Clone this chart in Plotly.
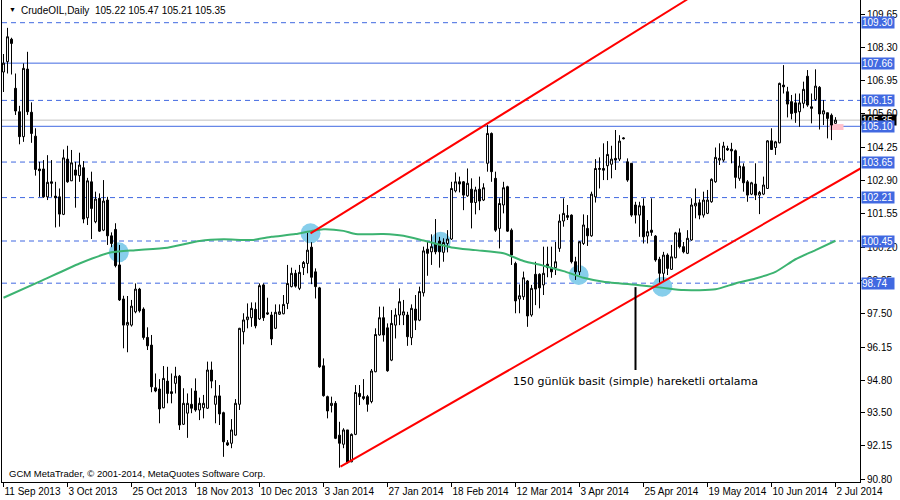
import plotly.graph_objects as go

# ---------------- data ----------------
opens = [107.30,107.72,108.63,106.64,105.69,104.68,107.42,105.67,104.70,103.37,
         103.37,102.24,102.85,102.27,102.24,101.53,103.77,102.89,103.33,103.10,
         103.42,101.39,102.85,101.23,102.18,100.89,102.11,100.66,100.92,99.48,
         98.10,97.04,97.04,97.58,98.50,97.69,96.54,96.23,94.50,94.45,
         93.69,94.77,94.34,94.68,94.97,93.02,93.47,93.83,94.37,93.60,
         93.69,93.67,95.22,93.83,94.17,93.49,92.27,92.25,92.58,93.83,
         96.77,97.26,97.34,97.68,97.29,98.67,97.54,97.45,96.91,97.48,
         97.50,97.92,98.60,99.14,98.53,99.37,99.54,100.20,99.20,98.55,
         95.39,94.14,93.78,93.87,92.58,92.21,92.79,91.50,92.61,94.27,
         94.14,94.14,93.94,95.15,96.64,97.34,96.93,95.62,97.04,97.45,
         97.45,97.45,96.53,97.69,97.24,98.35,100.12,100.01,100.35,100.45,
         99.99,100.35,100.53,102.48,102.85,102.85,102.28,102.55,102.01,102.55,
         102.11,103.60,104.81,102.99,100.96,101.91,102.65,100.89,99.54,98.10,
         98.19,98.83,97.45,99.10,99.10,98.67,99.51,99.37,99.37,100.15,
         101.26,101.48,101.50,99.61,99.20,100.35,100.96,100.66,102.24,103.35,
         103.39,103.50,103.56,103.80,103.77,104.63,103.66,103.60,101.91,101.50,
         101.87,100.65,100.89,100.65,99.71,99.14,99.88,99.30,99.77,100.78,
         100.22,99.95,100.49,101.87,102.00,101.50,101.57,102.04,102.85,103.73,
         103.73,104.20,104.17,104.11,102.99,103.46,102.85,102.35,102.76,102.31,
         102.35,102.58,104.51,104.24,104.43,106.77,106.50,106.10,106.05,105.69,
         106.03,107.13,105.89,106.19,106.68,105.60,105.65,105.55,105.22]
highs = [108.03,109.09,108.69,107.24,105.93,107.65,108.12,106.07,105.02,103.66,
         103.73,103.93,103.73,102.85,102.58,104.16,104.31,104.14,103.66,104.03,
         103.69,103.01,103.26,102.45,102.38,102.92,102.24,100.80,101.17,100.29,
         98.23,98.22,98.06,98.73,98.55,97.76,96.95,96.64,95.08,94.85,
         95.38,95.35,95.08,95.35,95.02,94.48,94.27,94.48,94.88,94.10,
         94.21,95.56,95.56,94.81,94.61,93.53,92.38,93.23,94.04,96.93,
         97.52,97.92,97.96,97.96,98.73,98.73,98.15,97.58,97.88,97.88,
         98.26,99.48,99.37,99.28,99.48,99.64,100.78,100.40,99.34,98.59,
         95.69,94.18,94.14,93.96,93.12,92.86,92.79,92.65,94.61,94.61,
         94.85,94.21,95.26,96.91,97.79,97.79,97.11,97.65,97.72,98.53,
         98.06,97.58,97.88,98.26,98.60,100.22,100.45,100.72,101.34,100.62,
         100.56,100.89,102.85,103.23,103.06,102.88,103.39,102.99,102.65,103.06,
         102.79,105.15,104.85,103.26,102.18,102.85,102.69,100.96,99.61,98.69,
         99.21,98.87,98.67,99.61,99.14,100.22,100.22,100.22,100.41,101.53,
         102.18,101.91,101.53,99.81,100.45,101.53,101.50,102.45,103.77,103.84,
         104.41,104.50,104.31,104.95,104.74,104.66,103.80,103.60,102.04,102.04,
         102.18,101.30,102.18,100.69,99.81,100.01,99.95,100.29,100.82,100.96,
         100.41,100.89,102.18,102.58,102.14,102.45,102.52,102.99,104.24,104.41,
         104.47,104.31,104.43,104.16,103.89,103.60,102.92,102.85,103.60,102.48,
         103.06,104.54,105.02,104.51,106.87,107.58,106.70,106.37,106.43,106.43,
         106.91,107.38,106.43,107.41,106.73,106.16,105.65,105.62,105.47]
lows = [106.49,107.24,107.20,105.56,104.37,104.47,105.56,104.43,103.10,102.24,
        102.20,102.11,102.24,101.00,101.03,101.50,102.81,102.88,101.80,102.85,
        101.17,101.10,100.53,101.17,100.82,100.85,100.29,100.20,99.38,98.02,
        96.10,95.94,96.98,97.52,97.55,96.45,96.03,94.32,94.32,93.06,
        93.67,93.87,93.87,94.27,92.79,92.99,92.47,93.47,93.53,93.19,
        93.26,93.64,94.48,93.06,92.99,91.70,92.14,92.05,92.56,93.60,
        96.26,96.91,96.97,96.91,97.25,97.21,97.45,96.23,96.88,97.45,
        97.48,97.69,98.57,98.56,98.46,99.07,99.14,98.70,98.12,95.31,
        94.14,93.26,93.50,92.42,91.26,92.05,91.43,91.48,92.58,93.80,
        94.00,93.53,93.87,95.13,96.61,96.37,95.15,95.58,96.50,97.04,
        97.04,96.20,96.23,96.84,97.20,98.20,99.04,99.48,99.91,99.37,
        99.61,99.99,100.49,102.42,102.42,101.70,102.24,100.96,101.53,101.70,
        102.07,103.26,102.85,100.82,100.15,101.57,100.82,99.48,97.52,97.52,
        98.06,96.97,97.38,97.85,97.72,98.26,98.98,98.96,99.07,100.01,
        101.03,101.30,99.54,98.87,99.07,100.29,100.25,100.62,102.01,102.58,
        102.92,102.92,102.99,103.33,103.69,104.57,102.85,101.43,101.16,100.62,
        100.35,100.35,100.66,99.61,98.76,98.80,99.07,99.28,99.75,100.15,
        99.95,99.92,100.46,101.37,101.33,101.40,101.54,102.00,102.81,103.53,
        103.66,104.10,103.60,102.58,102.89,102.45,102.04,102.31,102.11,101.54,
        102.31,102.56,104.14,103.94,104.41,106.43,105.46,105.38,105.24,105.08,
        105.83,105.89,105.22,106.13,104.97,105.15,104.61,104.54,105.21]
closes = [107.66,108.73,108.46,105.72,104.68,107.45,105.69,104.81,103.35,103.30,
          102.24,102.83,102.79,102.20,101.54,103.82,102.85,103.62,103.12,103.53,
          101.34,102.89,101.77,102.15,100.85,102.07,100.66,100.35,99.45,98.06,
          97.04,97.15,97.81,98.50,97.62,96.54,96.20,94.54,94.37,93.64,
          94.88,94.27,94.27,94.97,92.99,93.87,93.87,93.67,93.60,93.87,
          93.87,95.22,94.77,94.17,93.44,92.31,92.18,92.79,93.87,96.91,
          97.25,97.37,97.72,97.01,98.64,97.34,97.49,96.48,97.56,97.58,
          97.88,98.73,99.14,98.62,99.18,99.58,100.08,98.98,98.60,95.35,
          94.18,93.56,93.87,92.45,92.25,92.79,91.48,92.61,94.31,94.14,
          94.07,93.83,95.18,96.66,97.34,96.64,95.19,97.11,97.45,97.99,
          97.58,96.57,97.72,97.24,98.40,100.05,99.95,100.22,100.01,100.01,
          100.39,100.53,102.58,102.85,102.76,102.31,102.79,102.01,102.52,102.07,
          102.61,104.81,103.26,100.89,101.97,102.61,100.85,99.88,98.02,98.23,
          98.96,97.41,98.53,98.50,98.55,99.14,99.37,99.20,99.61,101.26,
          101.57,101.41,99.61,99.20,100.42,101.10,100.66,102.35,103.39,103.39,
          103.32,103.96,103.77,103.73,104.50,104.60,102.92,101.50,101.50,101.88,
          100.62,100.83,100.80,99.68,99.14,99.88,99.34,99.81,100.78,100.22,
          100.01,100.56,101.91,101.98,101.50,102.11,102.11,102.95,103.84,103.80,
          104.30,104.14,104.10,103.03,103.49,102.81,102.31,102.81,102.31,102.42,
          102.72,104.51,104.16,104.47,106.84,106.70,106.00,105.62,105.65,106.05,
          106.60,105.96,105.83,106.73,105.60,105.73,105.42,105.15,105.35]
bars = list(range(len(closes)))

# 150-day simple moving average
ma_bar = [0, 9, 19, 27, 33, 41, 49, 55, 62, 67, 73, 77, 80, 85, 88, 95, 100, 105,
          112, 118, 125, 130, 135, 140, 145, 150, 159, 165, 170, 178, 183, 188,
          193, 198, 203, 208]
ma_val = [98.15, 98.80, 99.54, 99.99, 100.08, 100.18, 100.45, 100.52, 100.49, 100.62,
          100.73, 100.86, 100.93, 100.86, 100.73, 100.73, 100.66, 100.47, 100.19,
          100.08, 99.95, 99.64, 99.45, 99.23, 98.96, 98.80, 98.66, 98.55, 98.46,
          98.49, 98.73, 98.93, 99.20, 99.71, 100.08, 100.46]

# x-axis tick labels (every 16 bars)
tick_bars = [0, 16, 32, 48, 64, 80, 96, 112, 128, 144, 160, 176, 192, 208]
tick_text = ["11 Sep 2013", "3 Oct 2013", "25 Oct 2013", "18 Nov 2013", "10 Dec 2013",
             "3 Jan 2014", "27 Jan 2014", "18 Feb 2014", "12 Mar 2014", "3 Apr 2014",
             "25 Apr 2014", "19 May 2014", "10 Jun 2014", "2 Jul 2014"]
y_ticks = [109.65, 108.30, 106.95, 105.60, 104.25, 102.90, 101.55, 100.20, 98.85,
           97.50, 96.15, 94.80, 93.50, 92.15, 90.80]

# horizontal levels
solid_levels = [107.66, 105.10]
dashed_levels = [109.30, 106.15, 103.65, 102.21, 100.45, 98.74]
bid_price = 105.35

# trend lines
up_x = [76.75, 171.0]
up_y = [100.76, 110.25]
low_x = [84.25, 214.25]
low_y = [91.30, 103.39]

# highlighted crossings (blue circles)
circ_bar = [28.8, 76.75, 109.3, 143.8, 164.7]
circ_val = [99.99, 100.76, 100.42, 99.07, 98.60]

# note
note_bar = 158
note_top, note_bottom, note_text_y = 98.58, 95.22, 94.74
note_text = "150 günlük basit (simple) hareketli ortalama"

FONT = "Tahoma, 'Liberation Sans', Arial, sans-serif"
BLUE = "#4169E1"

fig = go.Figure()

fig.add_trace(go.Candlestick(
    x=bars, open=opens, high=highs, low=lows, close=closes,
    increasing=dict(line=dict(color="black", width=1), fillcolor="white"),
    decreasing=dict(line=dict(color="black", width=1), fillcolor="black"),
    whiskerwidth=0, showlegend=False, hoverinfo="skip"))

fig.add_trace(go.Scatter(x=ma_bar, y=ma_val, mode="lines",
                         line=dict(color="#3CB371", width=2, shape="spline", smoothing=0.6),
                         showlegend=False, hoverinfo="skip"))

fig.add_trace(go.Scatter(x=up_x, y=up_y, mode="lines",
                         line=dict(color="#FF0000", width=2), showlegend=False, hoverinfo="skip"))
fig.add_trace(go.Scatter(x=low_x, y=low_y, mode="lines",
                         line=dict(color="#FF0000", width=2), showlegend=False, hoverinfo="skip"))

shapes = []
for cx, cy in zip(circ_bar, circ_val):
    shapes.append(dict(type="circle", xref="x", yref="y", xsizemode="pixel", ysizemode="pixel",
                       xanchor=cx, yanchor=cy, x0=-10, x1=10, y0=-10, y1=10,
                       fillcolor="#87CEEB", line=dict(width=0), layer="below"))
for lv in solid_levels:
    shapes.append(dict(type="line", xref="paper", yref="y", x0=0, x1=1, y0=lv, y1=lv,
                       line=dict(color=BLUE, width=1), layer="below"))
for lv in dashed_levels:
    shapes.append(dict(type="line", xref="paper", yref="y", x0=0, x1=1, y0=lv, y1=lv,
                       line=dict(color=BLUE, width=1, dash="5px,4px"), layer="below"))
shapes.append(dict(type="line", xref="paper", yref="y", x0=0, x1=1, y0=bid_price, y1=bid_price,
                   line=dict(color="#C0C0C0", width=1), layer="below"))
shapes.append(dict(type="rect", xref="x", yref="y", x0=206.5, x1=210, y0=104.95, y1=105.19,
                   fillcolor="#FFC0CB", line=dict(width=0), layer="below"))
shapes.append(dict(type="line", xref="x", yref="y", x0=note_bar, x1=note_bar,
                   y0=note_top, y1=note_bottom, line=dict(color="black", width=2)))

annotations = []
annotations.append(dict(x=note_bar, y=note_text_y, xref="x", yref="y", text=note_text,
                        showarrow=False, font=dict(family="'DejaVu Sans', sans-serif", size=11, color="black")))
# header
annotations.append(dict(x=0, y=1, xref="paper", yref="paper", xanchor="left", yanchor="top",
                        xshift=5, yshift=-4, text="▼", showarrow=False,
                        font=dict(family=FONT, size=7, color="black")))
annotations.append(dict(x=0, y=1, xref="paper", yref="paper", xanchor="left", yanchor="top",
                        xshift=17, yshift=-3, text="CrudeOIL,Daily  105.22 105.47 105.21 105.35",
                        showarrow=False, font=dict(family=FONT, size=10, color="black")))
annotations.append(dict(x=0, y=0, xref="paper", yref="paper", xanchor="left", yanchor="bottom",
                        xshift=5, yshift=1,
                        text="GCM MetaTrader, © 2001-2014, MetaQuotes Software Corp.",
                        showarrow=False, font=dict(family=FONT, size=9.5, color="black")))
# price boxes on right axis
annotations.append(dict(x=1, y=bid_price, xref="paper", yref="y", xanchor="left",
                        xshift=1, text="105.35", showarrow=False, bgcolor="black",
                        width=34, height=10, align="left", borderpad=0,
                        font=dict(family=FONT, size=10, color="white")))
for lv in dashed_levels + solid_levels:
    annotations.append(dict(x=1, y=lv, xref="paper", yref="y", xanchor="left",
                            xshift=1, text=f"{lv:.2f}", showarrow=False, bgcolor=BLUE,
                            width=32, height=11, align="left", borderpad=0,
                            font=dict(family=FONT, size=10, color="white")))

fig.update_layout(
    width=900, height=500,
    margin=dict(l=2, r=40, t=0, b=18),
    paper_bgcolor="white", plot_bgcolor="white",
    shapes=shapes, annotations=annotations,
    showlegend=False,
    xaxis=dict(range=[-0.375, 214.125], rangeslider=dict(visible=False),
               tickmode="array", tickvals=tick_bars, ticktext=tick_text,
               ticks="outside", ticklen=4, tickcolor="black", tickangle=0,
               ticklabelposition="outside right",
               showgrid=False, zeroline=False, showline=True, linecolor="black", linewidth=1,
               tickfont=dict(family=FONT, size=10, color="black"), automargin=False),
    yaxis=dict(side="right", range=[90.68, 110.22],
               tickmode="array", tickvals=y_ticks, ticktext=[f"{v:.2f}" for v in y_ticks],
               ticks="outside", ticklen=4, tickcolor="black",
               showgrid=False, zeroline=False, showline=True, linecolor="black", linewidth=1,
               mirror=True,
               tickfont=dict(family=FONT, size=10, color="black"), automargin=False),
)

fig.write_html("out.html", config={"displayModeBar": False},
               post_script="document.body.style.margin='0';document.body.style.overflow='hidden';")
